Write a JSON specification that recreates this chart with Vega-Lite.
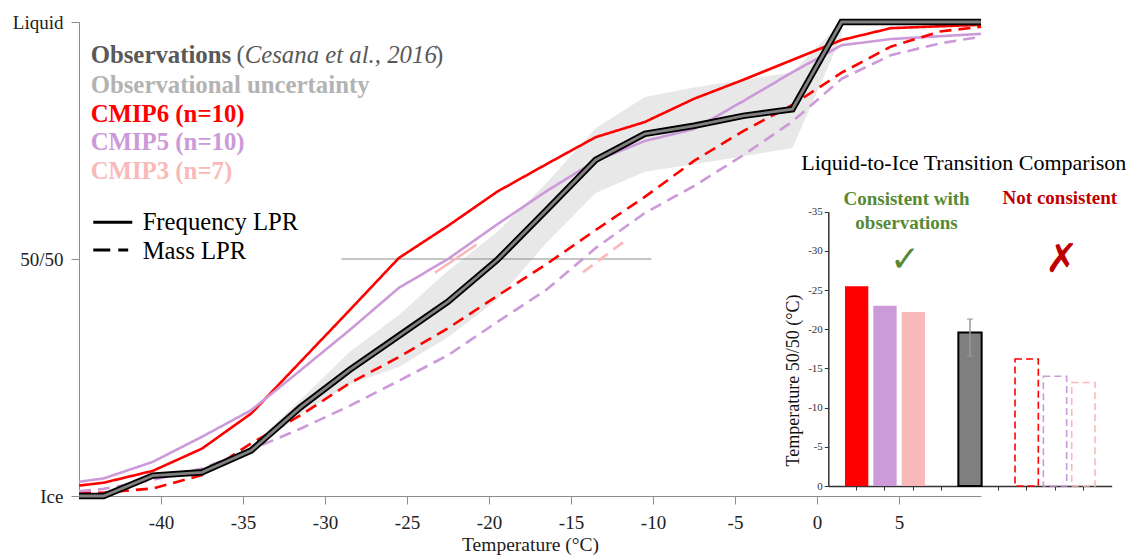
{
  "$schema": "https://vega.github.io/schema/vega-lite/v6.json",
  "width": 902,
  "height": 474,
  "autosize": {"type": "none"},
  "padding": {"left": 79, "top": 22, "right": 150, "bottom": 60},
  "background": "white",
  "config": {"view": {"stroke": null}, "font": "Liberation Serif", "axis": {"grid": false}},
  "datasets": {
    "lines": [
      {"series": "CMIP6 freq", "model": "CMIP6", "kind": "Frequency", "T": -45, "v": 0.022},
      {"series": "CMIP6 freq", "model": "CMIP6", "kind": "Frequency", "T": -43.5, "v": 0.028},
      {"series": "CMIP6 freq", "model": "CMIP6", "kind": "Frequency", "T": -40.5, "v": 0.053},
      {"series": "CMIP6 freq", "model": "CMIP6", "kind": "Frequency", "T": -37.5, "v": 0.1},
      {"series": "CMIP6 freq", "model": "CMIP6", "kind": "Frequency", "T": -34.5, "v": 0.174},
      {"series": "CMIP6 freq", "model": "CMIP6", "kind": "Frequency", "T": -31.5, "v": 0.283},
      {"series": "CMIP6 freq", "model": "CMIP6", "kind": "Frequency", "T": -28.5, "v": 0.392},
      {"series": "CMIP6 freq", "model": "CMIP6", "kind": "Frequency", "T": -25.5, "v": 0.502},
      {"series": "CMIP6 freq", "model": "CMIP6", "kind": "Frequency", "T": -22.5, "v": 0.57},
      {"series": "CMIP6 freq", "model": "CMIP6", "kind": "Frequency", "T": -19.5, "v": 0.642},
      {"series": "CMIP6 freq", "model": "CMIP6", "kind": "Frequency", "T": -16.5, "v": 0.7},
      {"series": "CMIP6 freq", "model": "CMIP6", "kind": "Frequency", "T": -13.5, "v": 0.757},
      {"series": "CMIP6 freq", "model": "CMIP6", "kind": "Frequency", "T": -10.5, "v": 0.789},
      {"series": "CMIP6 freq", "model": "CMIP6", "kind": "Frequency", "T": -7.5, "v": 0.838},
      {"series": "CMIP6 freq", "model": "CMIP6", "kind": "Frequency", "T": -4.5, "v": 0.878},
      {"series": "CMIP6 freq", "model": "CMIP6", "kind": "Frequency", "T": -1.5, "v": 0.92},
      {"series": "CMIP6 freq", "model": "CMIP6", "kind": "Frequency", "T": 1.5, "v": 0.962},
      {"series": "CMIP6 freq", "model": "CMIP6", "kind": "Frequency", "T": 4.5, "v": 0.987},
      {"series": "CMIP6 freq", "model": "CMIP6", "kind": "Frequency", "T": 7.5, "v": 0.991},
      {"series": "CMIP6 freq", "model": "CMIP6", "kind": "Frequency", "T": 10, "v": 0.994},
      {"series": "CMIP5 freq", "model": "CMIP5", "kind": "Frequency", "T": -45, "v": 0.03},
      {"series": "CMIP5 freq", "model": "CMIP5", "kind": "Frequency", "T": -43.5, "v": 0.037},
      {"series": "CMIP5 freq", "model": "CMIP5", "kind": "Frequency", "T": -40.5, "v": 0.072},
      {"series": "CMIP5 freq", "model": "CMIP5", "kind": "Frequency", "T": -37.5, "v": 0.125},
      {"series": "CMIP5 freq", "model": "CMIP5", "kind": "Frequency", "T": -34.5, "v": 0.181},
      {"series": "CMIP5 freq", "model": "CMIP5", "kind": "Frequency", "T": -31.5, "v": 0.265},
      {"series": "CMIP5 freq", "model": "CMIP5", "kind": "Frequency", "T": -28.5, "v": 0.35},
      {"series": "CMIP5 freq", "model": "CMIP5", "kind": "Frequency", "T": -25.5, "v": 0.439},
      {"series": "CMIP5 freq", "model": "CMIP5", "kind": "Frequency", "T": -22.5, "v": 0.5},
      {"series": "CMIP5 freq", "model": "CMIP5", "kind": "Frequency", "T": -19.5, "v": 0.573},
      {"series": "CMIP5 freq", "model": "CMIP5", "kind": "Frequency", "T": -16.5, "v": 0.643},
      {"series": "CMIP5 freq", "model": "CMIP5", "kind": "Frequency", "T": -13.5, "v": 0.707},
      {"series": "CMIP5 freq", "model": "CMIP5", "kind": "Frequency", "T": -10.5, "v": 0.749},
      {"series": "CMIP5 freq", "model": "CMIP5", "kind": "Frequency", "T": -7.5, "v": 0.774},
      {"series": "CMIP5 freq", "model": "CMIP5", "kind": "Frequency", "T": -4.5, "v": 0.833},
      {"series": "CMIP5 freq", "model": "CMIP5", "kind": "Frequency", "T": -1.5, "v": 0.894},
      {"series": "CMIP5 freq", "model": "CMIP5", "kind": "Frequency", "T": 1.5, "v": 0.951},
      {"series": "CMIP5 freq", "model": "CMIP5", "kind": "Frequency", "T": 4.5, "v": 0.964},
      {"series": "CMIP5 freq", "model": "CMIP5", "kind": "Frequency", "T": 7.5, "v": 0.97},
      {"series": "CMIP5 freq", "model": "CMIP5", "kind": "Frequency", "T": 10, "v": 0.975},
      {"series": "CMIP6 mass", "model": "CMIP6", "kind": "Mass", "T": -45, "v": 0.007},
      {"series": "CMIP6 mass", "model": "CMIP6", "kind": "Mass", "T": -43.5, "v": 0.007},
      {"series": "CMIP6 mass", "model": "CMIP6", "kind": "Mass", "T": -40.5, "v": 0.016},
      {"series": "CMIP6 mass", "model": "CMIP6", "kind": "Mass", "T": -37.5, "v": 0.044},
      {"series": "CMIP6 mass", "model": "CMIP6", "kind": "Mass", "T": -34.5, "v": 0.111},
      {"series": "CMIP6 mass", "model": "CMIP6", "kind": "Mass", "T": -31.5, "v": 0.17},
      {"series": "CMIP6 mass", "model": "CMIP6", "kind": "Mass", "T": -28.5, "v": 0.238},
      {"series": "CMIP6 mass", "model": "CMIP6", "kind": "Mass", "T": -25.5, "v": 0.293},
      {"series": "CMIP6 mass", "model": "CMIP6", "kind": "Mass", "T": -22.5, "v": 0.354},
      {"series": "CMIP6 mass", "model": "CMIP6", "kind": "Mass", "T": -19.5, "v": 0.422},
      {"series": "CMIP6 mass", "model": "CMIP6", "kind": "Mass", "T": -16.5, "v": 0.489},
      {"series": "CMIP6 mass", "model": "CMIP6", "kind": "Mass", "T": -13.5, "v": 0.561},
      {"series": "CMIP6 mass", "model": "CMIP6", "kind": "Mass", "T": -10.5, "v": 0.631},
      {"series": "CMIP6 mass", "model": "CMIP6", "kind": "Mass", "T": -7.5, "v": 0.707},
      {"series": "CMIP6 mass", "model": "CMIP6", "kind": "Mass", "T": -4.5, "v": 0.77},
      {"series": "CMIP6 mass", "model": "CMIP6", "kind": "Mass", "T": -1.5, "v": 0.825},
      {"series": "CMIP6 mass", "model": "CMIP6", "kind": "Mass", "T": 1.5, "v": 0.893},
      {"series": "CMIP6 mass", "model": "CMIP6", "kind": "Mass", "T": 4.5, "v": 0.948},
      {"series": "CMIP6 mass", "model": "CMIP6", "kind": "Mass", "T": 7.5, "v": 0.98},
      {"series": "CMIP6 mass", "model": "CMIP6", "kind": "Mass", "T": 10, "v": 0.99},
      {"series": "CMIP5 mass", "model": "CMIP5", "kind": "Mass", "T": -45, "v": 0.01},
      {"series": "CMIP5 mass", "model": "CMIP5", "kind": "Mass", "T": -43.5, "v": 0.015},
      {"series": "CMIP5 mass", "model": "CMIP5", "kind": "Mass", "T": -40.5, "v": 0.034},
      {"series": "CMIP5 mass", "model": "CMIP5", "kind": "Mass", "T": -37.5, "v": 0.058},
      {"series": "CMIP5 mass", "model": "CMIP5", "kind": "Mass", "T": -34.5, "v": 0.098},
      {"series": "CMIP5 mass", "model": "CMIP5", "kind": "Mass", "T": -31.5, "v": 0.142},
      {"series": "CMIP5 mass", "model": "CMIP5", "kind": "Mass", "T": -28.5, "v": 0.19},
      {"series": "CMIP5 mass", "model": "CMIP5", "kind": "Mass", "T": -25.5, "v": 0.243},
      {"series": "CMIP5 mass", "model": "CMIP5", "kind": "Mass", "T": -22.5, "v": 0.297},
      {"series": "CMIP5 mass", "model": "CMIP5", "kind": "Mass", "T": -19.5, "v": 0.367},
      {"series": "CMIP5 mass", "model": "CMIP5", "kind": "Mass", "T": -16.5, "v": 0.435},
      {"series": "CMIP5 mass", "model": "CMIP5", "kind": "Mass", "T": -13.5, "v": 0.523},
      {"series": "CMIP5 mass", "model": "CMIP5", "kind": "Mass", "T": -10.5, "v": 0.597},
      {"series": "CMIP5 mass", "model": "CMIP5", "kind": "Mass", "T": -7.5, "v": 0.654},
      {"series": "CMIP5 mass", "model": "CMIP5", "kind": "Mass", "T": -4.5, "v": 0.719},
      {"series": "CMIP5 mass", "model": "CMIP5", "kind": "Mass", "T": -1.5, "v": 0.79},
      {"series": "CMIP5 mass", "model": "CMIP5", "kind": "Mass", "T": 1.5, "v": 0.88},
      {"series": "CMIP5 mass", "model": "CMIP5", "kind": "Mass", "T": 4.5, "v": 0.93},
      {"series": "CMIP5 mass", "model": "CMIP5", "kind": "Mass", "T": 7.5, "v": 0.955},
      {"series": "CMIP5 mass", "model": "CMIP5", "kind": "Mass", "T": 10, "v": 0.969},
      {"series": "CMIP3 freq", "model": "CMIP3", "kind": "Frequency", "T": -23.3, "v": 0.471},
      {"series": "CMIP3 freq", "model": "CMIP3", "kind": "Frequency", "T": -20.77, "v": 0.53},
      {"series": "CMIP3 mass", "model": "CMIP3", "kind": "Mass", "T": -14.27, "v": 0.472},
      {"series": "CMIP3 mass", "model": "CMIP3", "kind": "Mass", "T": -11.83, "v": 0.535}
    ],
    "obs": [
      {"T": -45, "v": 0.0}, {"T": -43.5, "v": 0.0}, {"T": -40.5, "v": 0.043},
      {"T": -37.5, "v": 0.05}, {"T": -34.5, "v": 0.096}, {"T": -31.5, "v": 0.187},
      {"T": -28.5, "v": 0.266}, {"T": -25.5, "v": 0.338}, {"T": -22.5, "v": 0.41},
      {"T": -19.5, "v": 0.498}, {"T": -16.5, "v": 0.603}, {"T": -13.5, "v": 0.709},
      {"T": -10.5, "v": 0.764}, {"T": -7.5, "v": 0.781}, {"T": -4.5, "v": 0.802},
      {"T": -1.5, "v": 0.816}, {"T": 1.5, "v": 1.0}, {"T": 4.5, "v": 1.0},
      {"T": 7.5, "v": 1.0}, {"T": 10, "v": 1.0}
    ],
    "band": [
      {"T": -37.5, "lo": 0.05, "hi": 0.05},
      {"T": -34.5, "lo": 0.09, "hi": 0.105},
      {"T": -31.5, "lo": 0.173, "hi": 0.203},
      {"T": -28.5, "lo": 0.236, "hi": 0.304},
      {"T": -25.5, "lo": 0.272, "hi": 0.382},
      {"T": -22.5, "lo": 0.335, "hi": 0.475},
      {"T": -19.5, "lo": 0.414, "hi": 0.557},
      {"T": -16.5, "lo": 0.534, "hi": 0.66},
      {"T": -13.5, "lo": 0.639, "hi": 0.776},
      {"T": -10.5, "lo": 0.684, "hi": 0.842},
      {"T": -7.5, "lo": 0.7, "hi": 0.862},
      {"T": -4.5, "lo": 0.717, "hi": 0.878},
      {"T": -1.5, "lo": 0.734, "hi": 0.894},
      {"T": 1.5, "lo": 0.97, "hi": 1.0}
    ],
    "bars": [
      {"slot": "c6f", "model": "CMIP6", "kind": "Frequency", "t50": -25.5},
      {"slot": "c5f", "model": "CMIP5", "kind": "Frequency", "t50": -23.0},
      {"slot": "c3f", "model": "CMIP3", "kind": "Frequency", "t50": -22.2},
      {"slot": "obs", "model": "Observations", "kind": "Frequency", "t50": -19.6, "lo": -21.3, "hi": -16.6},
      {"slot": "c6m", "model": "CMIP6", "kind": "Mass", "t50": -16.2},
      {"slot": "c5m", "model": "CMIP5", "kind": "Mass", "t50": -14.0},
      {"slot": "c3m", "model": "CMIP3", "kind": "Mass", "t50": -13.2}
    ]
  },
  "layer": [
    {
      "layer": [
        {
          "data": {"name": "band"},
          "mark": {"type": "area", "color": "#e8e8e8"},
          "encoding": {
            "x": {
              "field": "T", "type": "quantitative",
              "scale": {"domain": [-45, 10], "nice": false, "zero": false},
              "axis": {
                "orient": "bottom",
                "title": "Temperature (°C)",
                "values": [-40, -35, -30, -25, -20, -15, -10, -5, 0, 5],
                "labelExpr": "datum.value < 0 ? '-' + abs(datum.value) : '' + datum.value",
                "labelFont": "Liberation Serif", "labelFontSize": 19, "labelColor": "#222",
                "titleFont": "Liberation Serif", "titleFontSize": 19.5, "titleFontWeight": "normal", "titleColor": "#222",
                "domainColor": "#8c8c8c", "tickColor": "#8c8c8c", "tickSize": 8,
                "labelPadding": 9, "titlePadding": 3
              }
            },
            "y": {
              "field": "lo", "type": "quantitative",
              "scale": {"domain": [0, 1], "nice": false, "zero": false},
              "axis": {
                "orient": "left",
                "title": null,
                "values": [0, 0.5, 1],
                "labelExpr": "datum.value == 0 ? 'Ice' : (datum.value == 1 ? 'Liquid' : '50/50')",
                "labelFont": "Liberation Serif", "labelFontSize": 19, "labelColor": "#222",
                "domainColor": "#8c8c8c", "tickColor": "#8c8c8c", "tickSize": 8, "labelPadding": 8
              }
            },
            "y2": {"field": "hi"}
          }
        },
        {
          "data": {"values": [{"T": -29.0, "T2": -10.1, "lo": 0.5}]},
          "mark": {"type": "rule", "color": "#8c8c8c", "strokeWidth": 1},
          "encoding": {
            "x": {"field": "T", "type": "quantitative"},
            "x2": {"field": "T2"},
            "y": {"field": "lo", "type": "quantitative"}
          }
        },
        {
          "data": {"name": "lines"},
          "mark": {"type": "line", "strokeWidth": 2.6},
          "encoding": {
            "x": {"field": "T", "type": "quantitative"},
            "y": {"field": "v", "type": "quantitative"},
            "color": {
              "field": "model", "type": "nominal",
              "scale": {"domain": ["CMIP6", "CMIP5", "CMIP3", "Observations"], "range": ["#ff0000", "#cc99d9", "#f9b9b9", "#808080"]},
              "legend": null
            },
            "strokeDash": {
              "field": "kind", "type": "nominal",
              "scale": {"domain": ["Frequency", "Mass"], "range": [[1, 0], [12, 7]]},
              "legend": null
            },
            "detail": {"field": "series"}
          }
        },
        {
          "data": {"name": "obs"},
          "mark": {"type": "line", "color": "#000000", "strokeWidth": 6.5},
          "encoding": {
            "x": {"field": "T", "type": "quantitative"},
            "y": {"field": "v", "type": "quantitative"}
          }
        },
        {
          "data": {"name": "obs"},
          "mark": {"type": "line", "color": "#808080", "strokeWidth": 2.8},
          "encoding": {
            "x": {"field": "T", "type": "quantitative"},
            "y": {"field": "v", "type": "quantitative"}
          }
        },
        {
          "data": {"values": [{"T": -44.13, "T2": -41.75, "lo": 0.5774}]},
          "mark": {"type": "rule", "color": "#000000", "strokeWidth": 3},
          "encoding": {
            "x": {"field": "T", "type": "quantitative"},
            "x2": {"field": "T2"},
            "y": {"field": "lo", "type": "quantitative"}
          }
        },
        {
          "data": {"values": [{"T": -44.13, "T2": -42.0, "lo": 0.519}]},
          "mark": {"type": "rule", "color": "#000000", "strokeWidth": 3, "strokeDash": [17, 8]},
          "encoding": {
            "x": {"field": "T", "type": "quantitative"},
            "x2": {"field": "T2"},
            "y": {"field": "lo", "type": "quantitative"}
          }
        },
        {
          "data": {"values": [{"label": "Observations", "T": -44.29, "v": 0.9128}]},
          "mark": {"type": "text", "align": "left", "baseline": "alphabetic", "font": "Liberation Serif", "fontSize": 24.8, "fontWeight": "bold", "color": "#595959"},
          "encoding": {"x": {"field": "T", "type": "quantitative"}, "y": {"field": "v", "type": "quantitative"}, "text": {"field": "label"}}
        },
        {
          "data": {"values": [{"label": "(", "T": -35.4, "v": 0.9128}, {"label": ")", "T": -23.3, "v": 0.9128}]},
          "mark": {"type": "text", "align": "left", "baseline": "alphabetic", "font": "Liberation Serif", "fontSize": 24.8, "color": "#595959"},
          "encoding": {"x": {"field": "T", "type": "quantitative"}, "y": {"field": "v", "type": "quantitative"}, "text": {"field": "label"}}
        },
        {
          "data": {"values": [{"label": "Cesana et al., 2016", "T": -34.9, "v": 0.9128}]},
          "mark": {"type": "text", "align": "left", "baseline": "alphabetic", "font": "Liberation Serif", "fontSize": 24.8, "fontStyle": "italic", "color": "#595959"},
          "encoding": {"x": {"field": "T", "type": "quantitative"}, "y": {"field": "v", "type": "quantitative"}, "text": {"field": "label"}}
        },
        {
          "data": {"values": [{"label": "Observational uncertainty", "T": -44.29, "v": 0.8496}]},
          "mark": {"type": "text", "align": "left", "baseline": "alphabetic", "font": "Liberation Serif", "fontSize": 24.8, "fontWeight": "bold", "color": "#b3b3b3"},
          "encoding": {"x": {"field": "T", "type": "quantitative"}, "y": {"field": "v", "type": "quantitative"}, "text": {"field": "label"}}
        },
        {
          "data": {"values": [
            {"label": "CMIP6 (n=10)", "model": "CMIP6", "T": -44.29, "v": 0.7897},
            {"label": "CMIP5 (n=10)", "model": "CMIP5", "T": -44.29, "v": 0.73},
            {"label": "CMIP3 (n=7)", "model": "CMIP3", "T": -44.29, "v": 0.668}
          ]},
          "mark": {"type": "text", "align": "left", "baseline": "alphabetic", "font": "Liberation Serif", "fontSize": 24.8, "fontWeight": "bold"},
          "encoding": {
            "x": {"field": "T", "type": "quantitative"},
            "y": {"field": "v", "type": "quantitative"},
            "text": {"field": "label"},
            "color": {"field": "model", "type": "nominal", "legend": null}
          }
        },
        {
          "data": {"values": [
            {"label": "Frequency LPR", "T": -41.12, "v": 0.5612},
            {"label": "Mass LPR", "T": -41.12, "v": 0.4994}
          ]},
          "mark": {"type": "text", "align": "left", "baseline": "alphabetic", "font": "Liberation Serif", "fontSize": 24.7, "color": "#000000"},
          "encoding": {"x": {"field": "T", "type": "quantitative"}, "y": {"field": "v", "type": "quantitative"}, "text": {"field": "label"}}
        },
        {
          "data": {"values": [{"label": "Liquid-to-Ice Transition Comparison", "T": -0.96, "v": 0.6878}]},
          "mark": {"type": "text", "align": "left", "baseline": "alphabetic", "font": "Liberation Serif", "fontSize": 22, "color": "#000000"},
          "encoding": {"x": {"field": "T", "type": "quantitative"}, "y": {"field": "v", "type": "quantitative"}, "text": {"field": "label"}}
        },
        {
          "data": {"values": [
            {"label": "Consistent with", "T": 5.46, "v": 0.614},
            {"label": "observations", "T": 5.46, "v": 0.5627}
          ]},
          "mark": {"type": "text", "align": "center", "baseline": "alphabetic", "font": "Liberation Serif", "fontSize": 19, "fontWeight": "bold", "color": "#568a35"},
          "encoding": {"x": {"field": "T", "type": "quantitative"}, "y": {"field": "v", "type": "quantitative"}, "text": {"field": "label"}}
        },
        {
          "data": {"values": [{"label": "Not consistent", "T": 14.81, "v": 0.616}]},
          "mark": {"type": "text", "align": "center", "baseline": "alphabetic", "font": "Liberation Serif", "fontSize": 19, "fontWeight": "bold", "color": "#c00000"},
          "encoding": {"x": {"field": "T", "type": "quantitative"}, "y": {"field": "v", "type": "quantitative"}, "text": {"field": "label"}}
        },
        {
          "data": {"values": [{"label": "✓", "T": 5.37, "v": 0.498}]},
          "mark": {"type": "text", "align": "center", "baseline": "middle", "font": "DejaVu Sans", "fontSize": 36, "color": "#568a35"},
          "encoding": {"x": {"field": "T", "type": "quantitative"}, "y": {"field": "v", "type": "quantitative"}, "text": {"field": "label"}}
        },
        {
          "data": {"values": [{"label": "✗", "T": 14.93, "v": 0.497}]},
          "mark": {"type": "text", "align": "center", "baseline": "middle", "font": "DejaVu Sans", "fontSize": 40, "color": "#c00000"},
          "encoding": {"x": {"field": "T", "type": "quantitative"}, "y": {"field": "v", "type": "quantitative"}, "text": {"field": "label"}}
        }
      ]
    },
    {
      "data": {"name": "bars"},
      "layer": [
        {
          "transform": [{"filter": "datum.kind == 'Frequency' && datum.model != 'Observations'"}],
          "mark": {"type": "bar"},
          "encoding": {
            "x": {
              "field": "slot", "type": "nominal",
              "scale": {"domain": ["c6f", "c5f", "c3f", "g1", "obs", "g2", "c6m", "c5m", "c3m"], "range": [749.3, 1032.7], "paddingInner": 0.178, "paddingOuter": 0.589},
              "axis": {
                "orient": "bottom", "offset": -10, "title": null, "labels": false,
                "values": ["c6f", "c5f", "c3f", "g1", "g2", "c6m", "c5m", "c3m"],
                "tickSize": 4, "domainColor": "#333333", "tickColor": "#333333", "domainWidth": 1.5
              }
            },
            "y": {
              "field": "t50", "type": "quantitative",
              "scale": {"domain": [0, -35], "range": [464, 189.7], "nice": false, "zero": false},
              "axis": {
                "orient": "left", "offset": -749.3,
                "title": "Temperature 50/50 (°C)",
                "values": [0, -5, -10, -15, -20, -25, -30, -35],
                "labelExpr": "datum.value < 0 ? '-' + abs(datum.value) : '' + datum.value",
                "labelFont": "Liberation Serif", "labelFontSize": 11, "labelColor": "#333333",
                "tickSize": 4, "labelPadding": 2, "domainColor": "#333333", "tickColor": "#333333", "domainWidth": 1.5,
                "titleFont": "Liberation Serif", "titleFontSize": 18, "titleFontWeight": "normal", "titleColor": "#111111",
                "titleX": -35, "titleY": 358, "titleAngle": -90, "titleAlign": "center", "titleBaseline": "middle"
              }
            },
            "y2": {"datum": 0},
            "color": {"field": "model", "type": "nominal", "legend": null}
          }
        },
        {
          "transform": [{"filter": "datum.model == 'Observations'"}],
          "mark": {"type": "bar", "fill": "#808080", "stroke": "#000000", "strokeWidth": 2},
          "encoding": {
            "x": {"field": "slot", "type": "nominal"},
            "y": {"field": "t50", "type": "quantitative"},
            "y2": {"datum": 0}
          }
        },
        {
          "transform": [{"filter": "datum.kind == 'Mass'"}],
          "mark": {"type": "bar", "filled": false, "strokeWidth": 1.6, "strokeDash": [7, 4]},
          "encoding": {
            "x": {"field": "slot", "type": "nominal"},
            "y": {"field": "t50", "type": "quantitative"},
            "y2": {"datum": 0},
            "color": {"field": "model", "type": "nominal", "legend": null}
          }
        },
        {
          "transform": [{"filter": "datum.model == 'Observations'"}],
          "mark": {"type": "rule", "color": "#999999", "strokeWidth": 1.5},
          "encoding": {
            "x": {"field": "slot", "type": "nominal"},
            "y": {"field": "lo", "type": "quantitative"},
            "y2": {"field": "hi"}
          }
        },
        {
          "transform": [{"filter": "datum.model == 'Observations'"}],
          "mark": {"type": "tick", "color": "#999999", "size": 6, "thickness": 1.5},
          "encoding": {
            "x": {"field": "slot", "type": "nominal"},
            "y": {"field": "lo", "type": "quantitative"}
          }
        },
        {
          "transform": [{"filter": "datum.model == 'Observations'"}],
          "mark": {"type": "tick", "color": "#999999", "size": 6, "thickness": 1.5},
          "encoding": {
            "x": {"field": "slot", "type": "nominal"},
            "y": {"field": "hi", "type": "quantitative"}
          }
        }
      ]
    }
  ],
  "resolve": {
    "scale": {"x": "independent", "y": "independent"},
    "axis": {"x": "independent", "y": "independent"}
  }
}
